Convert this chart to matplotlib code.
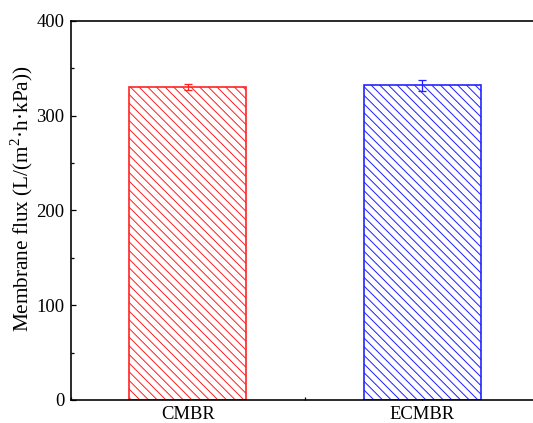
import matplotlib
matplotlib.use('Agg')
import matplotlib.pyplot as plt
from matplotlib.ticker import MultipleLocator

categories = ['CMBR', 'ECMBR']
flux = [330.5, 332.0]
flux_err = [3.0, 6.0]
colors = ['#ff2020', '#2020ff']

plt.rcParams['font.family'] = ['Liberation Serif', 'DejaVu Serif']
plt.rcParams['mathtext.fontset'] = 'custom'
plt.rcParams['mathtext.rm'] = 'Liberation Serif'
plt.rcParams['hatch.linewidth'] = 0.55

dpi = 130
fig = plt.figure(figsize=(533 / dpi, 423 / dpi), dpi=dpi)
ax = fig.add_axes([0.1326, 0.0544, 0.8796, 0.896])

x = [1, 2]
for xi, v, e, c in zip(x, flux, flux_err, colors):
    ax.bar(xi, v, width=0.5, facecolor='white', edgecolor=c, hatch='\\' * 5,
           linewidth=0.9, zorder=2)
    ax.errorbar(xi, v, yerr=e, color=c, capsize=2.2, elinewidth=0.7,
                capthick=0.7, zorder=3)

ax.set_xlim(0.5, 2.5)
ax.set_ylim(0, 400)
ax.set_xticks(x)
ax.set_xticklabels(categories, fontsize=10.2)
ax.xaxis.set_minor_locator(MultipleLocator(0.5))
ax.yaxis.set_major_locator(MultipleLocator(100))
ax.yaxis.set_minor_locator(MultipleLocator(50))
ax.tick_params(which='both', direction='in', labelsize=10.3, width=0.7)
ax.tick_params(which='major', length=3)
ax.tick_params(which='minor', length=1.8)
ax.tick_params(axis='x', pad=3.5)
for s in ax.spines.values():
    s.set_linewidth(0.9)
ax.set_ylabel('Membrane flux (L/(m$^2$·h·kPa))', fontsize=11.8)
ax.yaxis.set_label_coords(-0.076, 0.532)

fig.savefig('out.png', dpi=dpi)
